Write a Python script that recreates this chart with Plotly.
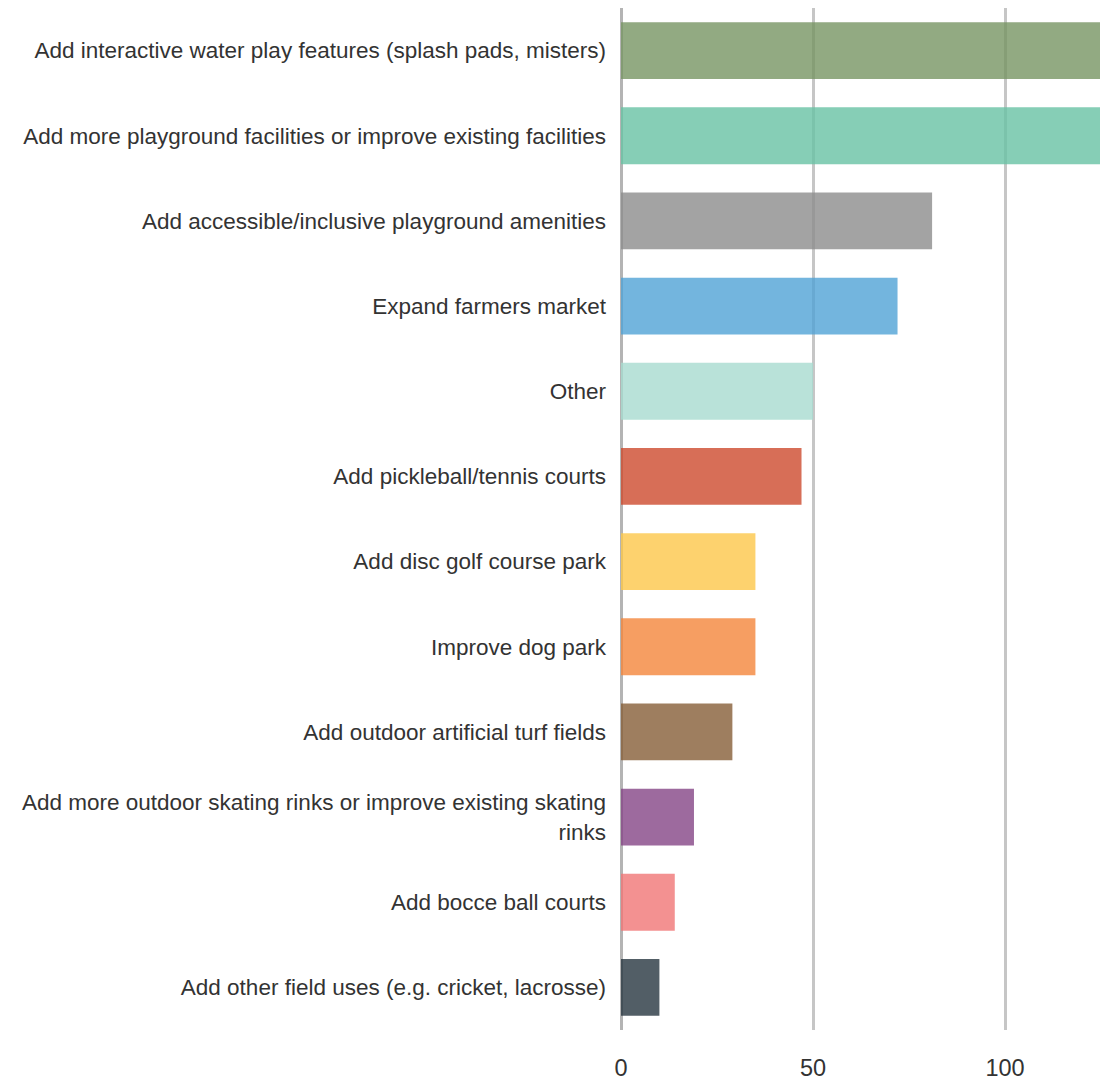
import plotly.graph_objects as go

categories = [
    "Add interactive water play features (splash pads, misters)",
    "Add more playground facilities or improve existing facilities",
    "Add accessible/inclusive playground amenities",
    "Expand farmers market",
    "Other",
    "Add pickleball/tennis courts",
    "Add disc golf course park",
    "Improve dog park",
    "Add outdoor artificial turf fields",
    "Add more outdoor skating rinks or improve existing skating<br>rinks",
    "Add bocce ball courts",
    "Add other field uses (e.g. cricket, lacrosse)",
]
values = [150, 135, 81, 72, 50, 47, 35, 35, 29, 19, 14, 10]
colors = ["#779563", "#69c3a5", "#8d8d8d", "#51a3d6", "#a8dcd0", "#ce4a2e",
          "#fdc84a", "#f5873c", "#875e38", "#854586", "#f17676", "#283640"]
tick_vals = [0, 50, 100]

fig = go.Figure(go.Bar(
    x=values, y=categories, orientation="h",
    marker=dict(color=colors, line=dict(width=0)),
    opacity=0.8, width=0.667,
))
fig.update_layout(
    width=1100, height=1073,
    margin=dict(l=613, r=0, t=0, b=42),
    paper_bgcolor="white", plot_bgcolor="white",
    showlegend=False,
    font=dict(family="Liberation Sans, Arial, sans-serif",
              size=22.5, color="#333333"),
)
fig.update_xaxes(range=[0, 126.8], tickvals=tick_vals, showgrid=True,
                 gridcolor="#c6c6c6", gridwidth=2.5, zeroline=True,
                 zerolinecolor="#b4b4b4", zerolinewidth=2.5,
                 tickfont=dict(size=23.5),
                 ticks="", ticklabelstandoff=21, fixedrange=True)
fig.update_yaxes(autorange="reversed", ticks="", ticklabelstandoff=14,
                 showgrid=False, automargin=False)
fig.write_html("out.html")
